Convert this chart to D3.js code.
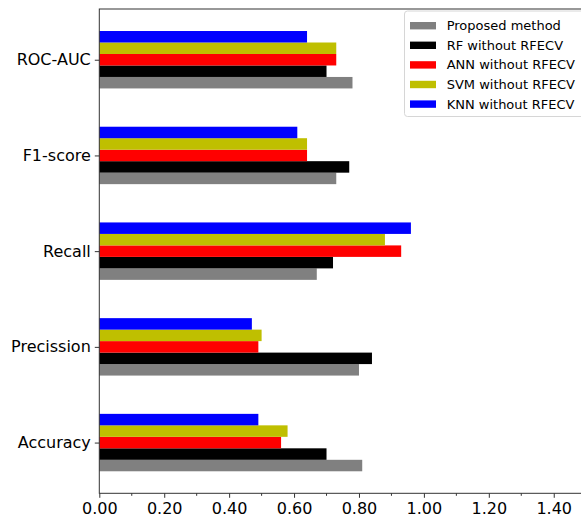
<!DOCTYPE html>
<html>
<head>
<meta charset="utf-8">
<script src="https://cdn.jsdelivr.net/npm/d3@7"></script>
<style>
  body { margin: 0; background: #fff; }
  svg { display: block; font-family: "DejaVu Sans", sans-serif; }
</style>
</head>
<body>
<div id="chart"></div>
<script>
// categories bottom to top
const categories = ["Accuracy", "Precission", "Recall", "F1-score", "ROC-AUC"];
const seriesNames = ["Proposed method", "RF without RFECV", "ANN without RFECV", "SVM without RFECV", "KNN without RFECV"];
const seriesColors = ["#808080", "#000000", "#ff0000", "#bfbf00", "#0000ff"];
const proposed = [0.81, 0.80, 0.67, 0.73, 0.78];
const rf = [0.70, 0.84, 0.72, 0.77, 0.70];
const ann = [0.56, 0.49, 0.93, 0.64, 0.73];
const svm = [0.58, 0.50, 0.88, 0.64, 0.73];
const knn = [0.49, 0.47, 0.96, 0.61, 0.64];
const xTicks = [0, 0.2, 0.4, 0.6, 0.8, 1.0, 1.2, 1.4];
const xMinorTicks = [0.1, 0.3, 0.5, 0.7, 0.9, 1.1, 1.3, 1.5];

const allSeries = [proposed, rf, ann, svm, knn];

const W = 581, H = 519;
const plotLeft = 99.3, plotTop = 9, plotBottom = 493.3;
const barH = 0.12;

const svg = d3.select("#chart").append("svg")
    .attr("width", W).attr("height", H);

// x in data units, 1.0 = ~324.6px
const x = d3.scaleLinear().domain([0, 1.6]).range([plotLeft, plotLeft + 1.6 * 324.6]);
// y in category units, matplotlib-like margins
const y = d3.scaleLinear().domain([-0.53, 4.53]).range([plotBottom, plotTop]);

// bars
allSeries.forEach((vals, s) => {
    const offset = (s - 2) * barH;
    svg.append("g").selectAll("rect")
        .data(vals)
        .enter().append("rect")
        .attr("x", x(0))
        .attr("y", (d, i) => y(i + offset + barH / 2))
        .attr("width", d => x(d) - x(0))
        .attr("height", y(0) - y(barH))
        .attr("fill", seriesColors[s]);
});

// x axis
const xAxis = svg.append("g")
    .attr("transform", `translate(0,${plotBottom})`)
    .call(d3.axisBottom(x).tickValues(xTicks).tickFormat(d3.format(".2f")).tickSize(4.5).tickPadding(5));
xAxis.select(".domain").remove();
xAxis.selectAll("text").attr("font-size", 16).attr("fill", "#000")
    .attr("font-family", "DejaVu Sans, sans-serif");
xAxis.selectAll(".tick line").attr("stroke", "#333");

svg.append("g")
    .attr("transform", `translate(0,${plotBottom})`)
    .selectAll("line").data(xMinorTicks).enter().append("line")
    .attr("x1", d => x(d)).attr("x2", d => x(d))
    .attr("y1", 0).attr("y2", 2.5)
    .attr("stroke", "#333");

// y axis
const yAxis = svg.append("g")
    .attr("transform", `translate(${plotLeft},0)`)
    .call(d3.axisLeft(y).tickValues(d3.range(categories.length))
        .tickFormat(i => categories[i]).tickSize(4.5).tickPadding(4));
yAxis.select(".domain").remove();
yAxis.selectAll("text").attr("font-size", 16).attr("fill", "#000")
    .attr("font-family", "DejaVu Sans, sans-serif");
yAxis.selectAll(".tick line").attr("stroke", "#333");

// spines (right one falls outside the picture)
svg.append("rect")
    .attr("x", plotLeft).attr("y", plotTop)
    .attr("width", x(1.6) - plotLeft).attr("height", plotBottom - plotTop)
    .attr("fill", "none").attr("stroke", "#333").attr("stroke-width", 1);

// legend
const lg = svg.append("g");
lg.append("rect")
    .attr("x", 404.5).attr("y", 11).attr("width", 200).attr("height", 105.5)
    .attr("rx", 3).attr("fill", "#fff").attr("fill-opacity", 0.8)
    .attr("stroke", "#d6d6d6");
seriesNames.forEach((name, s) => {
    const cy = 25.7 + s * 19.6;
    lg.append("rect")
        .attr("x", 410).attr("y", cy - 3.7).attr("width", 26).attr("height", 7.4)
        .attr("fill", seriesColors[s]);
    lg.append("text")
        .attr("x", 446.7).attr("y", cy).attr("dy", "0.35em")
        .attr("font-size", 13).attr("fill", "#000")
        .text(name);
});
</script>
</body>
</html>
